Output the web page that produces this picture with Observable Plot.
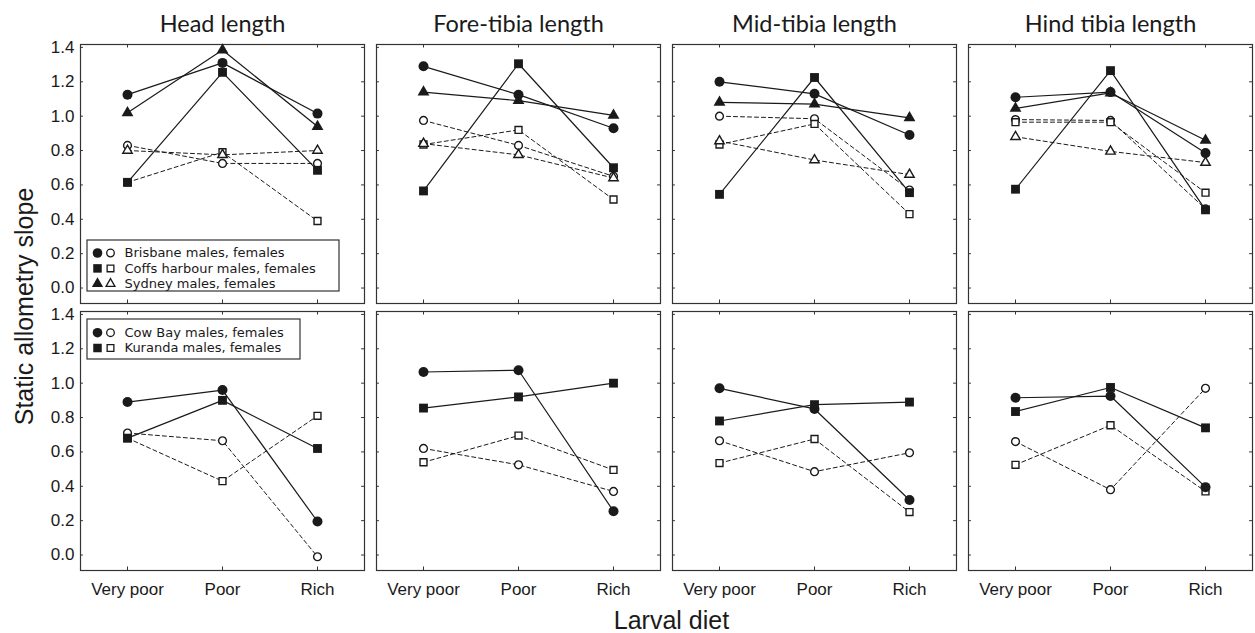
<!DOCTYPE html>
<html><head><meta charset="utf-8">
<script src="https://cdn.jsdelivr.net/npm/d3@7"></script>
<script src="https://cdn.jsdelivr.net/npm/@observablehq/plot@0.6"></script>
<style>body{margin:0;background:#fff}#chart{width:1255px;height:633px}</style>
</head><body><div id="chart"></div>
<script>
// ---- categories & ticks ----
const diets = ["Very poor", "Poor", "Rich"];
const measures = ["Head length", "Fore-tibia length", "Mid-tibia length", "Hind tibia length"];
const yTicks = [0, 0.2, 0.4, 0.6, 0.8, 1.0, 1.2, 1.4];
const rowsOrder = ["top", "bottom"];
const populations = ["Brisbane", "Coffs harbour", "Sydney", "Cow Bay", "Kuranda"];
const populationSymbols = ["circle", "square", "triangle", "circle", "square"];

// ---- series values: one [very poor, poor, rich] triple per measure ----
const brisbaneMales   = [[1.125, 1.31, 1.015], [1.29, 1.125, 0.93], [1.20, 1.13, 0.89], [1.11, 1.14, 0.785]];
const brisbaneFemales = [[0.83, 0.725, 0.725], [0.975, 0.83, 0.65], [1.00, 0.985, 0.57], [0.98, 0.975, 0.46]];
const coffsMales      = [[0.615, 1.255, 0.685], [0.565, 1.305, 0.70], [0.545, 1.225, 0.555], [0.575, 1.265, 0.455]];
const coffsFemales    = [[0.615, 0.79, 0.39], [0.835, 0.92, 0.515], [0.835, 0.955, 0.43], [0.965, 0.965, 0.555]];
const sydneyMales     = [[1.02, 1.385, 0.94], [1.14, 1.09, 1.005], [1.08, 1.07, 0.99], [1.045, 1.135, 0.86]];
const sydneyFemales   = [[0.80, 0.775, 0.80], [0.84, 0.775, 0.64], [0.855, 0.745, 0.66], [0.88, 0.795, 0.73]];
const cowBayMales     = [[0.89, 0.96, 0.195], [1.065, 1.075, 0.255], [0.97, 0.85, 0.32], [0.915, 0.925, 0.395]];
const cowBayFemales   = [[0.71, 0.665, -0.01], [0.62, 0.525, 0.37], [0.665, 0.485, 0.595], [0.66, 0.38, 0.97]];
const kurandaMales    = [[0.68, 0.90, 0.62], [0.855, 0.92, 1.00], [0.78, 0.875, 0.89], [0.835, 0.975, 0.74]];
const kurandaFemales  = [[0.68, 0.43, 0.81], [0.54, 0.695, 0.495], [0.535, 0.675, 0.25], [0.525, 0.755, 0.37]];

const series = [
  {population: "Brisbane", row: "top", sex: "female", values: brisbaneFemales},
  {population: "Coffs harbour", row: "top", sex: "female", values: coffsFemales},
  {population: "Sydney", row: "top", sex: "female", values: sydneyFemales},
  {population: "Cow Bay", row: "bottom", sex: "female", values: cowBayFemales},
  {population: "Kuranda", row: "bottom", sex: "female", values: kurandaFemales},
  {population: "Brisbane", row: "top", sex: "male", values: brisbaneMales},
  {population: "Coffs harbour", row: "top", sex: "male", values: coffsMales},
  {population: "Sydney", row: "top", sex: "male", values: sydneyMales},
  {population: "Cow Bay", row: "bottom", sex: "male", values: cowBayMales},
  {population: "Kuranda", row: "bottom", sex: "male", values: kurandaMales}
];

const legendTop = [
  {population: "Brisbane", label: "Brisbane males, females"},
  {population: "Coffs harbour", label: "Coffs harbour males, females"},
  {population: "Sydney", label: "Sydney males, females"}
];
const legendBottom = [
  {population: "Cow Bay", label: "Cow Bay males, females"},
  {population: "Kuranda", label: "Kuranda males, females"}
];

// ---- long table ----
const data = series.flatMap(s => measures.flatMap((m, i) => diets.map((d, j) => ({
  row: s.row, measure: m, diet: d, population: s.population, sex: s.sex,
  series: s.population + " " + s.sex, value: s.values[i][j]
}))));

// ---- layout ----
const W = 1255, H = 633, mL = 79, mR = 1, mT = 43, mB = 63;
const fxPad = 0.039, fyPad = 0.03;
const facetW = (W - mL - mR) / (measures.length - fxPad) * (1 - fxPad);
const facetH = (H - mT - mB) / (rowsOrder.length - fyPad) * (1 - fyPad);
const tickLen = 4;
const ink = "#1a1a1a";
const titleFont = "Lato, 'Open Sans', sans-serif";
const legendFont = "'DejaVu Sans', sans-serif";
const legendSize = 13;

const legendMarks = (items, row, boxInsets, rowTop, rowGap) => {
  const marks = [
    Plot.rect([{fx: measures[0], fy: row}], {fx: "fx", fy: "fy", fill: "white", stroke: "#333", strokeWidth: 1.2, ...boxInsets})
  ];
  items.forEach((it, k) => {
    const rec = [{...it, fx: measures[0], fy: row}];
    const dy = rowTop + rowGap * k;
    const tri = it.population === "Sydney";
    marks.push(
      Plot.dot(rec, {fx: "fx", fy: "fy", frameAnchor: "top-left", dx: 17, dy, symbol: "population", r: () => tri ? 4.2 : 4.8, fill: ink, stroke: "none"}),
      Plot.dot(rec, {fx: "fx", fy: "fy", frameAnchor: "top-left", dx: 30, dy, symbol: "population", r: () => tri ? 3.3 : 3.8, fill: "white", stroke: ink, strokeWidth: 1.3}),
      Plot.text(rec, {fx: "fx", fy: "fy", frameAnchor: "top-left", dx: 44, dy, text: "label", textAnchor: "start",
        lineAnchor: "middle", fontSize: legendSize, fontFamily: legendFont, fill: ink})
    );
  });
  return marks;
};

const chart = Plot.plot({
  width: W, height: H,
  marginLeft: mL, marginRight: mR, marginTop: mT, marginBottom: mB,
  style: {fontFamily: "'Liberation Sans', Arial, sans-serif", fontSize: "17px", color: ink, background: "white"},
  fx: {domain: measures, paddingInner: fxPad, paddingOuter: 0},
  fy: {domain: rowsOrder, paddingInner: fyPad, paddingOuter: 0, axis: null},
  x: {type: "point", domain: diets, padding: 0.49},
  y: {domain: [-0.09, 1.417]},
  symbol: {domain: populations, range: populationSymbols},
  r: {type: "identity"},
  marks: [
    Plot.frame({stroke: "#333", strokeWidth: 1.2}),
    // inward ticks on all four sides
    Plot.tickY(yTicks, {y: d => d, insetRight: facetW - tickLen, stroke: "#333"}),
    Plot.tickY(yTicks, {y: d => d, insetLeft: facetW - tickLen, stroke: "#333"}),
    Plot.tickX(diets, {x: d => d, insetBottom: facetH - tickLen, stroke: "#333"}),
    Plot.tickX(diets, {x: d => d, insetTop: facetH - tickLen, stroke: "#333"}),
    Plot.axisY({anchor: "left", ticks: yTicks, tickFormat: d3.format(".1f"), tickSize: 0, tickPadding: 6, label: null, fontSize: 17}),
    Plot.axisX({anchor: "bottom", tickSize: 0, tickPadding: 12, label: null, fontSize: 17}),
    Plot.axisFx({anchor: "top", tickSize: 0, tickPadding: 13, label: null, fontSize: 23.5, fontFamily: titleFont}),
    // females: dashed lines, open symbols
    Plot.line(data, {filter: d => d.sex === "female", fx: "measure", fy: "row", x: "diet", y: "value", z: "series",
      stroke: ink, strokeWidth: 1, strokeDasharray: "4,3"}),
    // males: solid lines
    Plot.line(data, {filter: d => d.sex === "male", fx: "measure", fy: "row", x: "diet", y: "value", z: "series",
      stroke: ink, strokeWidth: 1.2}),
    Plot.dot(data, {filter: d => d.sex === "female", fx: "measure", fy: "row", x: "diet", y: "value",
      symbol: "population", r: d => d.population === "Sydney" ? 3.5 : 3.9, fill: "white", stroke: ink, strokeWidth: 1.4}),
    Plot.dot(data, {filter: d => d.sex === "male", fx: "measure", fy: "row", x: "diet", y: "value",
      symbol: "population", r: d => d.population === "Sydney" ? 4.4 : 5, fill: ink, stroke: "none"}),
    ...legendMarks(legendTop, "top", {insetLeft: 7, insetRight: 25, insetTop: 196, insetBottom: 12}, 208.5, 15.4),
    ...legendMarks(legendBottom, "bottom", {insetLeft: 7, insetRight: 64, insetTop: 8, insetBottom: 211}, 21.2, 15.3)
  ]
});

// axis titles
const svg = d3.select(chart);
svg.append("text")
  .attr("x", (mL + W - mR) / 2 + 5).attr("y", 629)
  .attr("text-anchor", "middle")
  .style("font-size", "25px").style("font-family", "'Liberation Sans', Arial, sans-serif").attr("fill", ink)
  .text("Larval diet");
svg.append("text")
  .attr("transform", `translate(33, ${(mT + H - mB) / 2}) rotate(-90)`)
  .attr("text-anchor", "middle")
  .style("font-size", "25px").style("font-family", "'Liberation Sans', Arial, sans-serif").attr("fill", ink)
  .text("Static allometry slope");

document.getElementById("chart").append(chart);
</script>
</body></html>
